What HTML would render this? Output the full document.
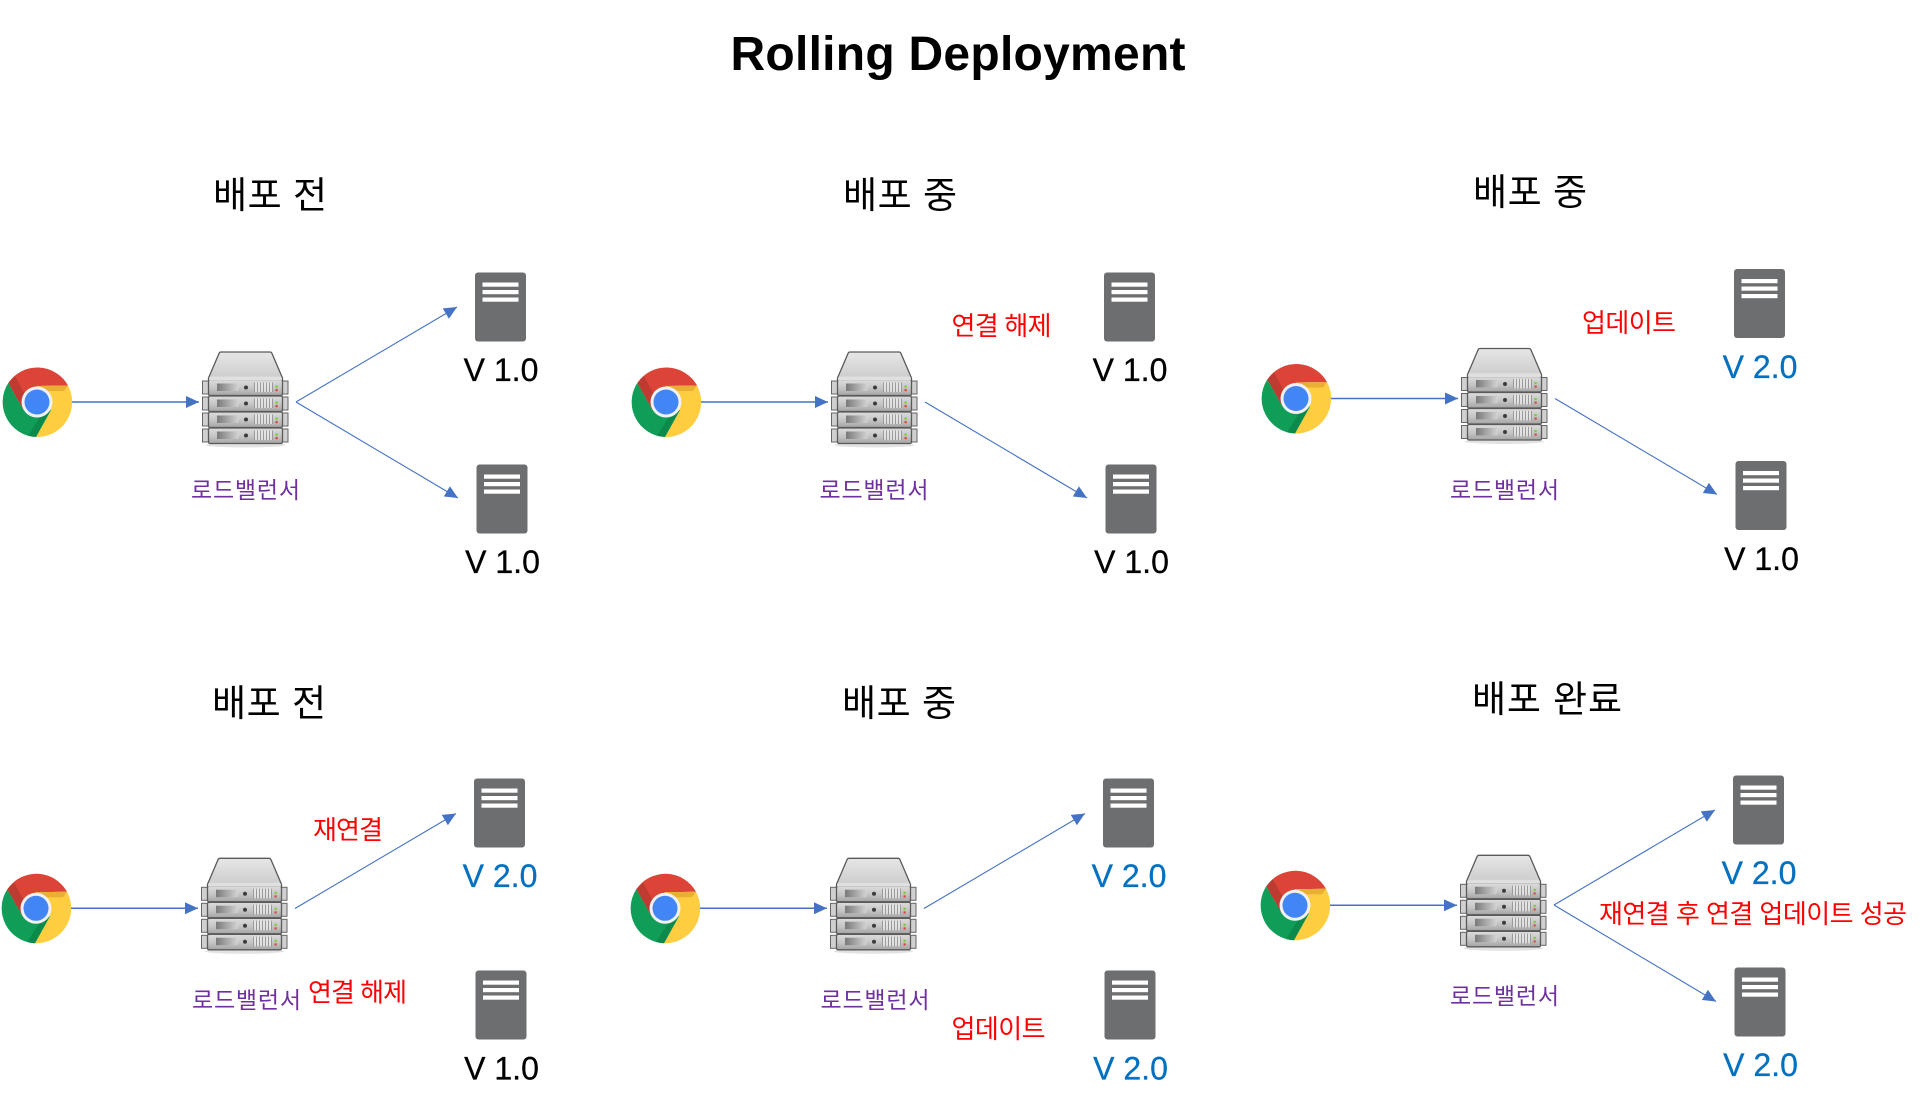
<!DOCTYPE html>
<html><head><meta charset="utf-8"><style>
html,body{margin:0;padding:0;background:#fff}
svg{display:block}
text{font-family:"Liberation Sans","Noto Sans CJK KR",sans-serif}
.h{font-size:37px;fill:#000}
.v{font-size:32px;text-anchor:middle;fill:#000;stroke:#000;stroke-width:.3}
.b{fill:#0070c0;stroke:#0070c0}
.lb{font-size:23px;fill:#7030a0}
.r{font-size:26px;fill:#f00}
</style></head><body>
<svg width="1926" height="1112" viewBox="0 0 1926 1112" xmlns="http://www.w3.org/2000/svg">
<defs>
<marker id="ah" markerUnits="userSpaceOnUse" markerWidth="13" markerHeight="12" refX="13" refY="6" orient="auto"><path d="M0,0L13,6L0,12Z" fill="#4472c4"/></marker>
<linearGradient id="gt" x1="0" y1="0" x2="0" y2="1"><stop offset="0" stop-color="#e6e6e6"/><stop offset=".75" stop-color="#cfcfcf"/><stop offset=".8" stop-color="#e4e4e4"/><stop offset="1" stop-color="#dcdcdc"/></linearGradient>
<linearGradient id="gu" x1="0" y1="0" x2="0" y2="1"><stop offset="0" stop-color="#dcdcdc"/><stop offset=".55" stop-color="#c4c4c4"/><stop offset="1" stop-color="#a4a4a4"/></linearGradient>
<linearGradient id="gw" x1="0" y1="0" x2="1" y2="0"><stop offset="0" stop-color="#7a7a7a"/><stop offset="1" stop-color="#d8d8d8"/></linearGradient>
<linearGradient id="sr" x1="0" y1="0" x2="1" y2="1"><stop offset="0" stop-color="#a33" stop-opacity=".5"/><stop offset="1" stop-color="#a33" stop-opacity="0"/></linearGradient>
<g id="unit">
<rect x="202.500" y="1" width="6" height="13" fill="#d0d0d0" stroke="#666" stroke-width="1"/>
<rect x="282" y="1" width="6" height="13" fill="#d0d0d0" stroke="#666" stroke-width="1"/>
<rect x="208.500" y="0" width="74" height="15.500" rx="1.500" fill="url(#gu)" stroke="#5a5a5a" stroke-width="1.300"/>
<path d="M217,3.500H240L238,11L217,11Z" fill="url(#gw)"/>
<circle cx="246" cy="7.500" r="2" fill="#3c3c3c"/>
<path d="M256,2.500v9.500M259,2.500v9.500M262,2.500v9.500M265,2.500v9.500M268,2.500v9.500M271,2.500v9.500" stroke="#f0f0f0" stroke-width="1.300"/>
<path d="M254.500,2.500v9.500M257.500,2.500v9.500M260.500,2.500v9.500M263.500,2.500v9.500M266.500,2.500v9.500M269.500,2.500v9.500M272.500,2.500v9.500" stroke="#9a9a9a" stroke-width="1"/>
<rect x="275.500" y="5.500" width="2.200" height="2.200" fill="#7c3"/><rect x="275.500" y="9" width="2.200" height="2.200" fill="#d44"/>
</g>
<g id="base">
<path d="M-28.700,-19A35,35 0 0 1 31,-16.500L0,-16L-13.500,8Z" transform="translate(37,402)" fill="#db4437"/>
<path d="M31,-16.500A35,35 0 0 1 -1,35L14,8L0,-16Z" transform="translate(37,402)" fill="#ffcd40"/>
<path d="M-28.700,-19L-13.500,8L14,8L-1,35A35,35 0 0 1 -28.700,-19Z" transform="translate(37,402)" fill="#0f9d58"/>
<path d="M-28.700,-19L-22,-26L-8,0L-13.500,8Z" transform="translate(37,402)" fill="#a8352b" opacity=".6"/>
<path d="M0,-16L31,-16.500L27,-11L10,-11Z" transform="translate(37,402)" fill="#e0a32e" opacity=".7"/>
<path d="M14,8L-1,35L-9,34L6,10Z" transform="translate(37,402)" fill="#0b7a44" opacity=".55"/>
<circle cx="37" cy="402" r="15.500" fill="#f1f1f1"/>
<circle cx="37" cy="402" r="12.500" fill="#4285f4"/>
<line x1="72" y1="402" x2="199" y2="402" stroke="#4472c4" stroke-width="1.500" marker-end="url(#ah)"/>
<ellipse cx="245.500" cy="445" rx="40" ry="2.500" fill="#e2e2e2"/>
<path d="M221,352H270Q271.500,352 272,353.500L282.500,378V384H208.500V378L219,353.500Q219.500,352 221,352Z" fill="url(#gt)" stroke="#5a5a5a" stroke-width="1.300"/>
<use href="#unit" transform="translate(0,380)"/>
<use href="#unit" transform="translate(0,396)"/>
<use href="#unit" transform="translate(0,412)"/>
<use href="#unit" transform="translate(0,428)"/>
<rect x="209.200" y="377.500" width="72.600" height="3" fill="#e0e0e0"/>
</g>
<g id="srv">
<rect x="0" y="0" width="51" height="69" rx="3" fill="#6d6e70"/>
<rect x="7.500" y="10" width="36" height="4.200" fill="#fff"/>
<rect x="7.500" y="17.500" width="36" height="4.200" fill="#fff"/>
<rect x="7.500" y="25" width="36" height="4.200" fill="#fff"/>
</g>
</defs>
<rect width="1926" height="1112" fill="#fff"/>

<text x="730.500" y="70" font-size="48" font-weight="bold" textLength="455" fill="#000">Rolling Deployment</text>

<text class="h" x="213" y="208" textLength="114">배포 전</text>
<text class="h" x="843" y="208" textLength="114">배포 중</text>
<text class="h" x="1473" y="205" textLength="114">배포 중</text>
<text class="h" x="212" y="716" textLength="114">배포 전</text>
<text class="h" x="842" y="716" textLength="114">배포 중</text>
<text class="h" x="1472" y="712" textLength="150">배포 완료</text>

<use href="#base"/>
<use href="#base" transform="translate(629,0)"/>
<use href="#base" transform="translate(1259,-3.500)"/>
<use href="#base" transform="translate(-1,506.300)"/>
<use href="#base" transform="translate(628,506.300)"/>
<use href="#base" transform="translate(1258,503.300)"/>

<g fill="none" stroke="#4472c4" stroke-width="1.100" marker-end="url(#ah)">
<line x1="296" y1="402" x2="457" y2="307"/>
<line x1="296" y1="402" x2="458" y2="498"/>
<line x1="925" y1="402" x2="1087" y2="498"/>
<line x1="1555" y1="398.500" x2="1717" y2="494.500"/>
<line x1="295" y1="908.500" x2="456" y2="813.500"/>
<line x1="924" y1="908.500" x2="1085" y2="813.500"/>
<line x1="1554" y1="905" x2="1715" y2="810"/>
<line x1="1554" y1="905" x2="1716" y2="1001.500"/>
</g>

<use href="#srv" transform="translate(475,272.500)"/>
<use href="#srv" transform="translate(476.500,464.500)"/>
<use href="#srv" transform="translate(1104,272.500)"/>
<use href="#srv" transform="translate(1105.500,464.500)"/>
<use href="#srv" transform="translate(1734,269)"/>
<use href="#srv" transform="translate(1735.500,461)"/>
<use href="#srv" transform="translate(474,778.500)"/>
<use href="#srv" transform="translate(475.500,970.500)"/>
<use href="#srv" transform="translate(1103,778.500)"/>
<use href="#srv" transform="translate(1104.500,970.500)"/>
<use href="#srv" transform="translate(1733,775.500)"/>
<use href="#srv" transform="translate(1734.500,967.500)"/>

<text class="v" x="501" y="381">V 1.0</text>
<text class="v" x="502.500" y="573">V 1.0</text>
<text class="v" x="1130" y="381">V 1.0</text>
<text class="v" x="1131.500" y="573">V 1.0</text>
<text class="v b" x="1760" y="378">V 2.0</text>
<text class="v" x="1761.500" y="570">V 1.0</text>
<text class="v b" x="500" y="887">V 2.0</text>
<text class="v" x="501.500" y="1079.500">V 1.0</text>
<text class="v b" x="1129" y="887">V 2.0</text>
<text class="v b" x="1130.500" y="1079.500">V 2.0</text>
<text class="v b" x="1759" y="884">V 2.0</text>
<text class="v b" x="1760.500" y="1076">V 2.0</text>

<text class="lb" x="191" y="498" textLength="109">로드밸런서</text>
<text class="lb" x="819.500" y="498" textLength="109">로드밸런서</text>
<text class="lb" x="1450" y="498" textLength="109">로드밸런서</text>
<text class="lb" x="192" y="1008" textLength="109">로드밸런서</text>
<text class="lb" x="820.500" y="1008" textLength="109">로드밸런서</text>
<text class="lb" x="1450" y="1004" textLength="109">로드밸런서</text>

<text class="r" x="951.500" y="335" textLength="100">연결 해제</text>
<text class="r" x="1582" y="332" textLength="94">업데이트</text>
<text class="r" x="313" y="839" textLength="70">재연결</text>
<text class="r" x="308" y="1001.500" textLength="99">연결 해제</text>
<text class="r" x="951.500" y="1038" textLength="94">업데이트</text>
<text class="r" x="1599" y="923" textLength="308">재연결 후 연결 업데이트 성공</text>
</svg>
</body></html>
